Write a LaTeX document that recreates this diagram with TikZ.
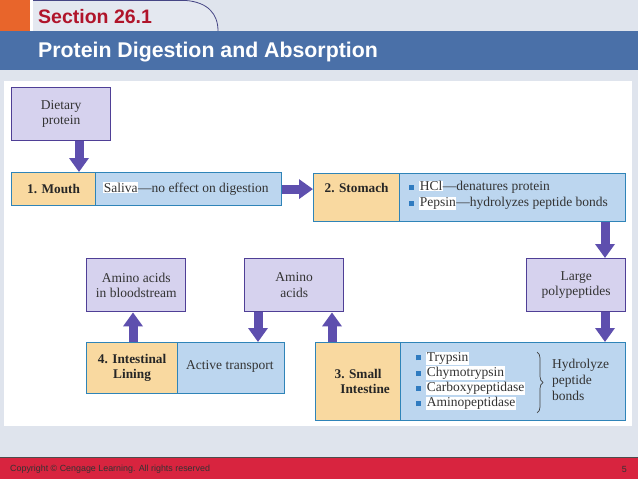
\documentclass[tikz,border=0pt]{standalone}
\usepackage{fontspec}
\setmainfont{Liberation Serif}
\newfontfamily\hdrfont{Liberation Sans}
\usetikzlibrary{arrows.meta,decorations.pathreplacing}
\definecolor{bg}{HTML}{DFE4ED}
\definecolor{tabc}{HTML}{E4E8F0}
\definecolor{hbar}{HTML}{4A70A8}
\definecolor{sectred}{HTML}{B0142A}
\definecolor{orng}{HTML}{E8652B}
\definecolor{foot}{HTML}{D8243F}
\definecolor{stepyel}{HTML}{F9D9A0}
\definecolor{stepblu}{HTML}{BCD6EF}
\definecolor{cellbd}{HTML}{2F84B8}
\definecolor{purfill}{HTML}{D6D2EE}
\definecolor{purbd}{HTML}{4F3F96}
\definecolor{arr}{HTML}{5E4FAE}
\definecolor{bulletc}{HTML}{2F7BC0}
\definecolor{txt}{HTML}{333333}
\newcommand\bul{\textcolor{bulletc}{\rule[0.8pt]{5pt}{5pt}}\hspace{5pt}}
\newcommand\hlw[1]{{\setlength{\fboxsep}{0.6pt}\colorbox{white}{#1}}}
\tikzset{
  celly/.style={draw=cellbd, fill=stepyel, line width=1.2pt, anchor=north west, inner sep=0pt, align=center, font=\bfseries\fontsize{13.3}{15.5}\selectfont, text=black!85},
  cellb/.style={draw=cellbd, fill=stepblu, line width=1.2pt, anchor=north west, inner sep=0pt},
  pbox/.style={draw=purbd, fill=purfill, line width=1.4pt, anchor=north west, inner sep=0pt, minimum width=99pt, minimum height=53pt, align=center, font=\fontsize{13.5}{15.5}\selectfont, text=txt},
  lbl/.style={anchor=west, inner sep=0pt, align=left, font=\fontsize{13.5}{15.5}\selectfont, text=txt},
  flow/.style={line width=9pt, draw=arr, -{Triangle[width=19pt,length=14pt]}},
}
\begin{document}
\begin{tikzpicture}[x=1pt,y=-1pt]
% background
\fill[bg] (0,0) rectangle (638,479);
\useasboundingbox (0,0) rectangle (638,479);
% header
\fill[orng] (0,0) rectangle (30,31);
\fill[white] (30,0) rectangle (33,31);
\fill[tabc] (33,0) -- (185,0) .. controls (208,2) and (218,14) .. (218,31) -- (33,31) -- cycle;
\draw[color=black!45!blue!45!gray, line width=0.8pt] (33,0.4) -- (185,0.4) .. controls (208,2) and (218,14) .. (218,31);
\fill[hbar] (0,31) rectangle (638,70);
\node[anchor=west, inner sep=0pt, text=sectred, font=\hdrfont\bfseries\fontsize{19.5}{22}\selectfont] (sect) at (38,17) {Section 26.1};
\node[anchor=west, inner sep=0pt, text=white, font=\hdrfont\bfseries\fontsize{21.3}{24}\selectfont] (title) at (38,52) {Protein Digestion and Absorption};
% panel
\fill[white] (4,81) rectangle (632,426);
% footer
\fill[foot] (0,457) rectangle (638,479);
\draw[black!70, line width=0.8pt] (0,457) -- (638,457);
\node[anchor=west, inner sep=0pt, font=\hdrfont\fontsize{8.9}{10}\selectfont, text=black!80] (copy) at (10,469) {Copyright \textcopyright{} Cengage Learning. All rights reserved};
\node[anchor=east, inner sep=0pt, font=\hdrfont\fontsize{8.9}{10}\selectfont, text=black!80] (pg) at (627,469) {5};
% boxes
\node[pbox] (diet) at (11,87) {Dietary\\protein};
\node[celly, minimum width=84pt, minimum height=33pt] (mouth) at (11,172) {1. Mouth};
\node[cellb, minimum width=186pt, minimum height=33pt] (saliva) at (95,172) {};
\node[lbl] (saltxt) at (103,188.5) {\hlw{Saliva}---no effect on digestion};
\node[celly, minimum width=86pt, minimum height=48pt, text height=10pt, text depth=20pt] (stom) at (313,173) {2. Stomach};
\node[cellb, minimum width=226pt, minimum height=48pt] (stomb) at (399,173) {};
\node[lbl, font=\fontsize{13.5}{16}\selectfont] (stomtxt) at (409,195.5) {\bul\hlw{HCl}---denatures protein\\\bul\hlw{Pepsin}---hydrolyzes peptide bonds};
\node[pbox] (large) at (526,258) {Large\\polypeptides};
\node[celly, minimum width=85pt, minimum height=78pt] (small) at (315,342) {3. Small\\\hspace*{14pt}Intestine};
\node[cellb, minimum width=225pt, minimum height=78pt] (smallb) at (400,342) {};
\node[lbl, font=\fontsize{13.5}{15.3}\selectfont] (enz) at (416,381) {\bul\hlw{Trypsin}\\\bul\hlw{Chymotrypsin}\\\bul\hlw{Carboxypeptidase}\\\bul\hlw{Aminopeptidase}};
\coordinate (bt) at (537,352);
\coordinate (bb) at (537,413);
\draw[decorate, decoration={brace, amplitude=6pt}, black!75, line width=0.7pt] (bt) -- (bb);
\node[lbl, font=\fontsize{13.5}{16}\selectfont] (hyd) at (552,380) {Hydrolyze\\peptide\\bonds};
\node[pbox] (amino) at (244,258) {Amino\\acids};
\node[pbox] (blood) at (86,258) {Amino acids\\in bloodstream};
\node[celly, minimum width=91pt, minimum height=51pt] (lining) at (86,342) {4. Intestinal\\Lining};
\node[cellb, minimum width=107pt, minimum height=51pt] (active) at (177,342) {};
\node[lbl] (acttxt) at (186,366) {Active transport};
% arrow columns
\coordinate (c1) at (79,0);
\coordinate (c3) at (605,0);
\coordinate (c5) at (332,0);
\coordinate (c6) at (258,0);
\coordinate (c7) at (133,0);
\draw[flow] (diet.south -| c1) -- (mouth.north -| c1);
\draw[flow] (saliva.east) -- (saliva.east -| stom.west);
\draw[flow] (stomb.south -| c3) -- (large.north -| c3);
\draw[flow] (large.south -| c3) -- (smallb.north -| c3);
\draw[flow] (small.north -| c5) -- (amino.south -| c5);
\draw[flow] (amino.south -| c6) -- (active.north -| c6);
\draw[flow] (lining.north -| c7) -- (blood.south -| c7);
\end{tikzpicture}
\end{document}
